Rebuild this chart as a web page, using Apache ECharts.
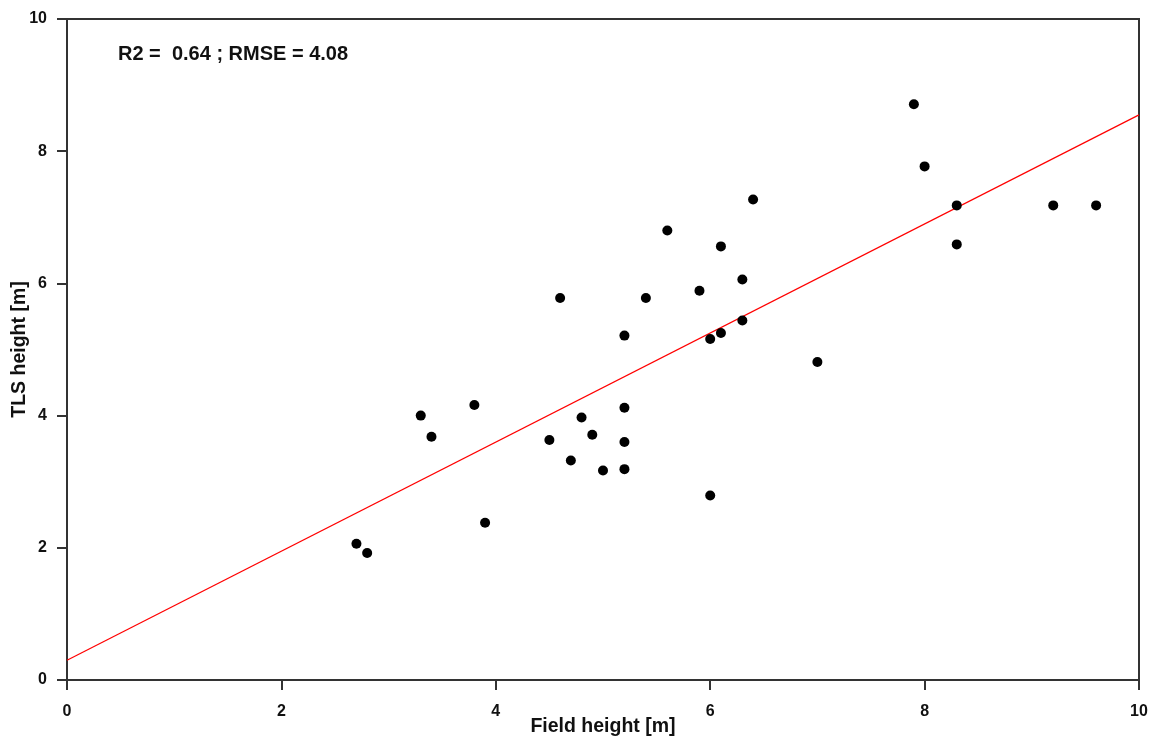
<!DOCTYPE html>
<html>
<head>
<meta charset="utf-8">
<script src="https://cdn.jsdelivr.net/npm/echarts@6/dist/echarts.min.js"></script>
<style>
  html, body { margin: 0; padding: 0; background: #fff; }
  #chart { width: 1153px; height: 738px; }
</style>
</head>
<body>
<div id="chart"></div>
<script>
// Field-measured tree height vs. TLS-derived height
const fieldHeight = [2.7, 2.8, 3.3, 3.4, 3.8, 3.9, 4.5, 4.6, 4.7, 4.8, 4.9, 5.0,
  5.2, 5.2, 5.2, 5.2, 5.4, 5.6, 5.9, 6.0, 6.0, 6.1, 6.1, 6.3, 6.3, 6.4,
  7.0, 7.9, 8.0, 8.3, 8.3, 9.2, 9.6];
const tlsHeight = [2.06, 1.92, 4.0, 3.68, 4.16, 2.38, 3.63, 5.78, 3.32, 3.97, 3.71, 3.17,
  5.21, 4.12, 3.6, 3.19, 5.78, 6.8, 5.89, 5.16, 2.79, 6.56, 5.25, 6.06, 5.44, 7.27,
  4.81, 8.71, 7.77, 7.18, 6.59, 7.18, 7.18];

// Regression line end points (field height, predicted TLS height)
const fitX = [0, 10];
const fitY = [0.30, 8.55];

const axisTicks = [0, 2, 4, 6, 8, 10];
const statsText = 'R2 =  0.64 ; RMSE = 4.08';
const xTitle = 'Field height [m]';
const yTitle = 'TLS height [m]';

const points = fieldHeight.map((x, i) => [x, tlsHeight[i]]);
const fitLine = fitX.map((x, i) => [x, fitY[i]]);

const fontFamily = 'Liberation Sans, Arial, sans-serif';
const axisColor = '#333';

const axisCommon = {
  type: 'value',
  min: axisTicks[0],
  max: axisTicks[axisTicks.length - 1],
  interval: axisTicks[1] - axisTicks[0],
  splitLine: { show: false },
  axisLine: { show: true, onZero: false, lineStyle: { color: axisColor, width: 2 } },
  axisTick: { show: true, inside: false, length: 10, lineStyle: { color: axisColor, width: 2 } },
  axisLabel: { color: '#111', fontFamily, fontWeight: 'bold', fontSize: 16 },
  nameLocation: 'middle',
  nameMoveOverlap: false,
  nameTextStyle: { color: '#111', fontFamily, fontWeight: 'bold', fontSize: 19.5 }
};

const chart = echarts.init(document.getElementById('chart'), null, { renderer: 'canvas' });
chart.setOption({
  animation: false,
  backgroundColor: '#fff',
  grid: {
    left: 67, right: 14, top: 19, bottom: 58,
    outerBoundsMode: 'none',
    containLabel: false,
    show: true, borderColor: axisColor, borderWidth: 2, backgroundColor: 'transparent'
  },
  title: {
    text: statsText,
    left: 113, top: 39,
    textStyle: { color: '#111', fontFamily, fontWeight: 'bold', fontSize: 20 }
  },
  xAxis: Object.assign({}, axisCommon, {
    name: xTitle,
    nameGap: 37,
    axisLabel: Object.assign({}, axisCommon.axisLabel, { margin: 24 })
  }),
  yAxis: Object.assign({}, axisCommon, {
    name: yTitle,
    nameGap: 37,
    axisLabel: Object.assign({}, axisCommon.axisLabel, { margin: 20 })
  }),
  series: [
    {
      type: 'line',
      data: fitLine,
      symbol: 'none',
      lineStyle: { color: '#ff0000', width: 1.2 },
      z: 2
    },
    {
      type: 'scatter',
      data: points,
      symbol: 'circle',
      symbolSize: 10,
      itemStyle: { color: '#000', opacity: 1 },
      z: 3
    }
  ]
});
</script>
</body>
</html>
